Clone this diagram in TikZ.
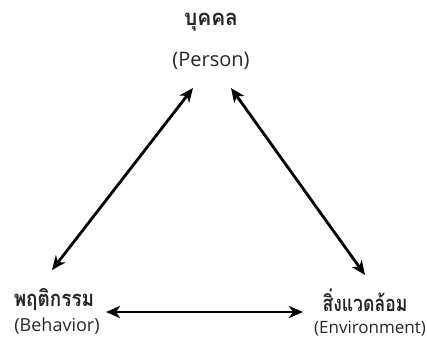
\documentclass[tikz,border=0pt]{standalone}
\usepackage{fontspec}
\setmainfont{Open Sans}
\newfontfamily\thaifont[Script=Thai]{Loma}
\usetikzlibrary{arrows.meta}
\newcommand{\narrow}[2]{\scalebox{#1}[1]{#2}}
\tikzset{
  thai/.style={font=\thaifont\bfseries\fontsize{22}{26}\selectfont, inner sep=0pt, text=black!85},
  eng/.style={font=\fontsize{17}{20}\selectfont, inner sep=0pt, text=black!85},
  link/.style={line width=2.8pt, {Stealth[length=14pt,width=12pt,inset=4pt]}-{Stealth[length=14pt,width=12pt,inset=4pt]}}
}
\begin{document}
\begin{tikzpicture}[x=1pt,y=-1pt]
  \useasboundingbox (0,0) rectangle (427,340);
  % labels
  \node[thai] (pth) at (211,22) {\narrow{0.95}{บุคคล}};
  \node[eng, font=\fontsize{20}{24}\selectfont]  (pen) at (211,61) {(Person)};
  \node[thai] (bth) at (54,300) {\narrow{0.86}{พฤติกรรม}};
  \node[eng, font=\fontsize{18}{21}\selectfont]  (ben) at (57,326) {(Behavior)};
  \node[thai] (eth) at (365,300) {\narrow{0.8}{สิ่งแวดล้อม}};
  \node[eng]  (een) at (370,329) {(Environment)};
  % arrow end points
  \coordinate (pl) at (193,88);
  \coordinate (pr) at (231,88);
  \coordinate (bt) at (52,270);
  \coordinate (et) at (365,275);
  \coordinate (bh) at (106,312);
  \coordinate (eh) at (303,312);
  % reciprocal links
  \draw[link] (pl) -- (bt);
  \draw[link] (pr) -- (et);
  \draw[link] (bh) -- (eh);
\end{tikzpicture}
\end{document}
